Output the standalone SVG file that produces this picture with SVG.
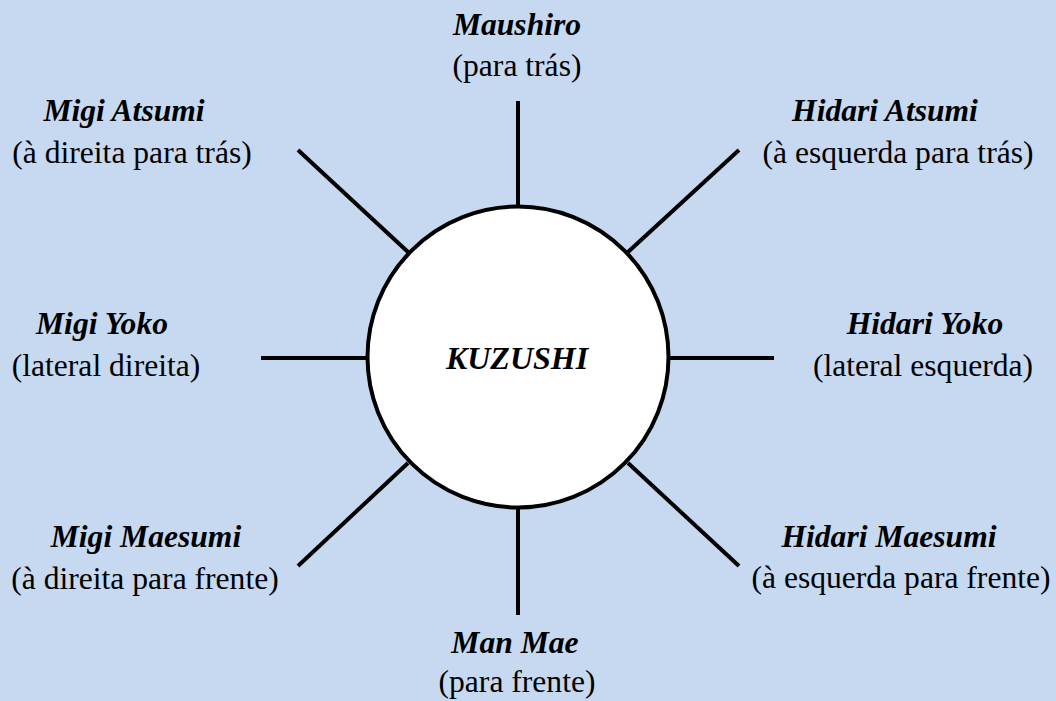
<svg xmlns="http://www.w3.org/2000/svg" width="1056" height="701" viewBox="0 0 1056 701">
<style>
svg g text{font-family:'Liberation Serif',serif !important;font-size:31.6px;fill:#000;text-anchor:middle}
svg g text.t{font-weight:bold;font-style:italic}
.c line{stroke:#000;stroke-width:4;stroke-linecap:butt}
</style>
<rect width="1056" height="701" fill="#c6d9f0"/>
<g class="c" id="connectors">
<line x1="518" y1="101" x2="518" y2="206"/>
<line x1="518" y1="508" x2="518" y2="615"/>
<line x1="261" y1="358" x2="367" y2="358"/>
<line x1="669" y1="358" x2="774" y2="358"/>
<line x1="298" y1="150" x2="408" y2="252"/>
<line x1="739" y1="150" x2="628" y2="252"/>
<line x1="298" y1="566" x2="408" y2="463"/>
<line x1="739" y1="566" x2="628" y2="463"/>
</g>
<g font-family="Liberation Serif">
<g id="kuzushi">
<circle cx="518" cy="357" r="150.5" fill="#fff" stroke="#000" stroke-width="4"/>
<text class="t" x="517" y="369" style="font-size:32px">KUZUSHI</text>
</g>
<g id="maushiro"><text class="t" x="517" y="35">Maushiro</text><text x="517" y="76">(para trás)</text></g>
<g id="migi-atsumi"><text class="t" x="124" y="121">Migi Atsumi</text><text x="132" y="163">(à direita para trás)</text></g>
<g id="hidari-atsumi"><text class="t" x="885" y="121">Hidari Atsumi</text><text x="898" y="163">(à esquerda para trás)</text></g>
<g id="migi-yoko"><text class="t" x="102" y="334">Migi Yoko</text><text x="106" y="376">(lateral direita)</text></g>
<g id="hidari-yoko"><text class="t" x="925" y="334">Hidari Yoko</text><text x="923" y="376">(lateral esquerda)</text></g>
<g id="migi-maesumi"><text class="t" x="146" y="547">Migi Maesumi</text><text x="145" y="589">(à direita para frente)</text></g>
<g id="hidari-maesumi"><text class="t" x="889" y="547">Hidari Maesumi</text><text x="901" y="588">(à esquerda para frente)</text></g>
<g id="man-mae"><text class="t" x="515" y="653">Man Mae</text><text x="517" y="692">(para frente)</text></g>
</g>
</svg>
